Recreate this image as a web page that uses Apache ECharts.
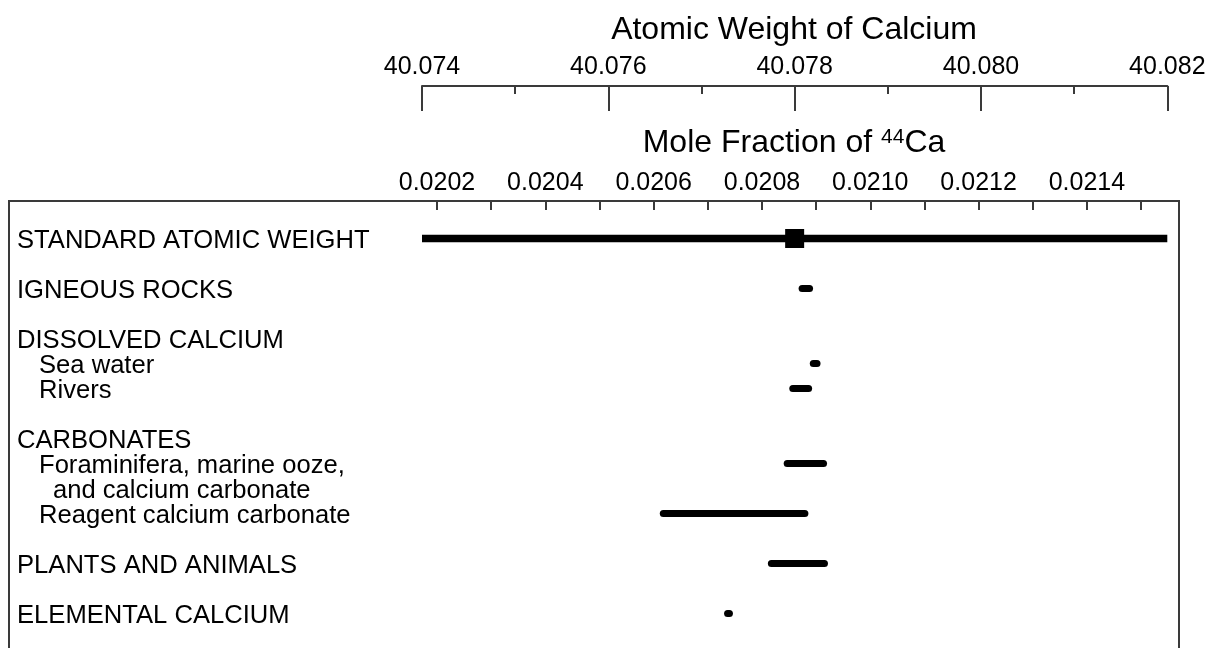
<!DOCTYPE html>
<html>
<head>
<meta charset="utf-8">
<script src="https://cdn.jsdelivr.net/npm/echarts@6/dist/echarts.min.js"></script>
<style>
html,body{margin:0;padding:0;background:#fff;}
#chart{width:1206px;height:648px;}
</style>
</head>
<body>
<div id="chart"></div>
<script>
// ---- data ----
const rows = ['', 'STANDARD ATOMIC WEIGHT', '', 'IGNEOUS ROCKS', '', 'DISSOLVED CALCIUM', 'Sea water', 'Rivers', '',
  'CARBONATES', 'Foraminifera, marine ooze,', 'and calcium carbonate', 'Reagent calcium carbonate', '',
  'PLANTS AND ANIMALS', '', 'ELEMENTAL CALCIUM', ''];
const rowLevel = [0, 0, 0, 0, 0, 0, 1, 1, 0, 0, 1, 2, 1, 0, 0, 0, 0, 0];

const awRange = [40.074, 40.082];      // atomic weight axis
const awStep = 0.002;
const mfRange = [0.0202, 0.02157];     // mole fraction of 44Ca axis
const mfStep = 0.0002;

const standardRow = 'STANDARD ATOMIC WEIGHT';
const standardRange = [40.074, 40.082];
const standardValue = 40.078;

const rangeRows = ['IGNEOUS ROCKS', 'Sea water', 'Rivers', 'Foraminifera, marine ooze,',
  'Reagent calcium carbonate', 'PLANTS AND ANIMALS', 'ELEMENTAL CALCIUM'];
const rangeLow  = [40.07808, 40.07820, 40.07798, 40.07792, 40.07659, 40.07775, 40.07728];
const rangeHigh = [40.07816, 40.07824, 40.07815, 40.07831, 40.07811, 40.07832, 40.07730];

// ---- chart ----
const FONT = '"Liberation Sans", Arial, Helvetica, sans-serif';
const AXC = '#3a3a3a';
const chart = echarts.init(document.getElementById('chart'));

const rangeData = rangeRows.map((r, i) => [rangeLow[i], rangeHigh[i], rows.indexOf(r)]);
const standardData = [[standardRange[0], standardRange[1], rows.indexOf(standardRow)]];

function barRenderer(width, cap) {
  return function (params, api) {
    const row = api.value(2);
    const p1 = api.coord([api.value(0), row]);
    const p2 = api.coord([api.value(1), row]);
    return {
      type: 'line',
      shape: {x1: p1[0], y1: p1[1], x2: p2[0], y2: p2[1]},
      style: {stroke: '#000', lineWidth: width, lineCap: cap}
    };
  };
}

const labelStyle = {fontFamily: FONT, fontSize: 25, color: '#000'};
const ROWFS = 25.6;

const option = {
  animation: false,
  backgroundColor: '#fff',
  title: [
    {text: 'Atomic Weight of Calcium', left: 794, top: 14, textAlign: 'center', padding: 0,
     textStyle: {fontFamily: FONT, fontSize: 32, fontWeight: 'normal', color: '#000'}},
    {text: 'Mole Fraction of {sup|44}Ca', left: 794, top: 127, textAlign: 'center', padding: 0,
     textStyle: {fontFamily: FONT, fontSize: 32, fontWeight: 'normal', color: '#000',
       rich: {sup: {fontFamily: FONT, fontSize: 21, color: '#000', verticalAlign: 'top'}}}}
  ],
  grid: [
    {left: 422, right: 38.7, top: 85, height: 1, outerBoundsMode: 'none', containLabel: false},
    {left: 437, right: 27, top: 201, height: 450, outerBoundsMode: 'none', containLabel: false},
    {left: 9, right: 27, top: 201, height: 450, show: true, borderColor: AXC, borderWidth: 2,
     backgroundColor: 'transparent', outerBoundsMode: 'none', containLabel: false},
    {left: 422, right: 38.7, top: 201, height: 450, outerBoundsMode: 'none', containLabel: false}
  ],
  xAxis: [
    { // atomic weight
      gridIndex: 0, type: 'value', position: 'top', min: awRange[0], max: awRange[1], interval: awStep,
      axisLine: {show: true, lineStyle: {color: AXC, width: 2}},
      axisTick: {show: true, inside: true, length: 25, lineStyle: {color: AXC, width: 2}},
      minorTick: {show: true, splitNumber: 2, length: 8, lineStyle: {color: AXC, width: 2}},
      splitLine: {show: false}, minorSplitLine: {show: false},
      axisLabel: Object.assign({margin: 5, formatter: v => v.toFixed(3)}, labelStyle)
    },
    { // mole fraction major
      gridIndex: 1, type: 'value', position: 'top', min: mfRange[0], max: mfRange[1], interval: mfStep,
      axisLine: {show: false},
      axisTick: {show: true, inside: true, length: 26, lineStyle: {color: AXC, width: 2}},
      splitLine: {show: false},
      axisLabel: Object.assign({margin: 5, showMaxLabel: false, formatter: v => v.toFixed(4)}, labelStyle)
    },
    { // mole fraction minor
      gridIndex: 1, type: 'value', position: 'top', min: mfRange[0], max: mfRange[1], interval: mfStep / 2,
      axisLine: {show: false},
      axisTick: {show: true, inside: true, length: 9, lineStyle: {color: AXC, width: 2}},
      splitLine: {show: false},
      axisLabel: {show: false}
    },
    {gridIndex: 2, type: 'value', show: false, min: 0, max: 1},
    {gridIndex: 3, type: 'value', show: false, min: awRange[0], max: awRange[1]}
  ],
  yAxis: [
    {gridIndex: 0, type: 'value', show: false},
    {gridIndex: 1, type: 'value', show: false},
    {
      gridIndex: 2, type: 'category', data: rows, inverse: true,
      axisLine: {show: false}, axisTick: {show: false}, splitLine: {show: false},
      axisLabel: {
        inside: true, margin: 8, interval: 0, fontFamily: FONT, fontSize: ROWFS, color: '#000',
        formatter: (v, i) => v ? '{l' + rowLevel[i] + '|' + v + '}' : '',
        rich: {
          l0: {fontFamily: FONT, fontSize: ROWFS, color: '#000', padding: [5, 0, 0, 0]},
          l1: {fontFamily: FONT, fontSize: ROWFS, color: '#000', padding: [5, 0, 0, 22]},
          l2: {fontFamily: FONT, fontSize: ROWFS, color: '#000', padding: [5, 0, 0, 36]}
        }
      }
    },
    {gridIndex: 3, type: 'category', data: rows, inverse: true, show: false}
  ],
  series: [
    {
      type: 'custom', name: 'standard range', xAxisIndex: 4, yAxisIndex: 3,
      encode: {x: [0, 1], y: 2}, data: standardData, clip: false,
      renderItem: barRenderer(7.5, 'butt'), z: 2
    },
    {
      type: 'scatter', name: 'standard value', xAxisIndex: 4, yAxisIndex: 3,
      symbol: 'rect', symbolSize: 19, itemStyle: {color: '#000', opacity: 1},
      data: [[standardValue, rows.indexOf(standardRow)]], z: 3
    },
    {
      type: 'custom', name: 'ranges', xAxisIndex: 4, yAxisIndex: 3,
      encode: {x: [0, 1], y: 2}, data: rangeData, clip: false,
      renderItem: barRenderer(7, 'round'), z: 2
    }
  ]
};
chart.setOption(option);
</script>
</body>
</html>
